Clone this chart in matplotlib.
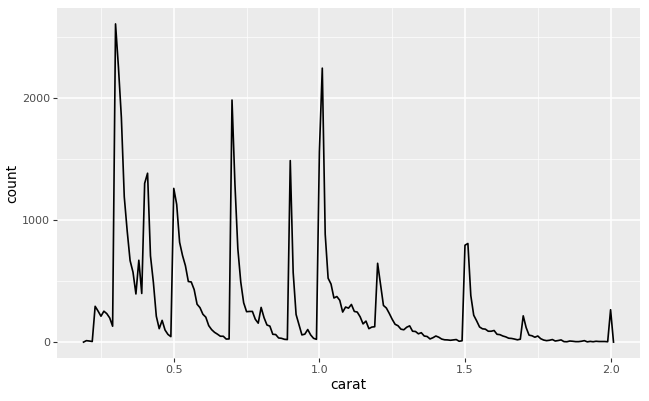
import matplotlib
matplotlib.use("Agg")
import matplotlib.pyplot as plt
import numpy as np

counts = [12, 9, 5, 293, 254, 212, 253, 233, 198, 130,
          2604, 2249, 1840, 1189, 910, 667, 572, 394, 670, 398,
          1299, 1382, 706, 488, 212, 110, 178, 99, 63, 45,
          1258, 1127, 817, 709, 625, 496, 492, 430, 310, 282,
          228, 204, 135, 102, 80, 65, 48, 48, 25, 26,
          1981, 1294, 764, 492, 322, 249, 251, 251, 187, 155,
          284, 200, 140, 131, 64, 62, 34, 31, 23, 21,
          1485, 570, 226, 142, 59, 65, 103, 59, 31, 23,
          1558, 2242, 883, 523, 475, 361, 373, 342, 246, 287,
          278, 308, 251, 246, 207, 149, 172, 110, 123, 126,
          645, 473, 300, 279, 235, 187, 146, 134, 106, 101,
          122, 133, 89, 87, 68, 77, 50, 46, 26, 36,
          50, 40, 25, 19, 18, 15, 18, 21, 7, 11,
          793, 807, 381, 220, 174, 124, 109, 106, 89, 89,
          95, 64, 61, 50, 43, 32, 30, 25, 19, 24,
          215, 119, 57, 52, 40, 50, 28, 17, 12, 15,
          21, 9, 13, 18, 4, 3, 9, 7, 4, 4,
          7, 12, 2, 6, 3, 7, 5, 5, 5, 3,
          265]
carat = np.round(0.20 + 0.01 * np.arange(len(counts)), 2)
x = np.concatenate([[0.19], carat, [carat[-1] + 0.01]])
y = np.concatenate([[0], counts, [0]])

fig = plt.figure(figsize=(6.49, 4.01), dpi=100)
ax = fig.add_axes([57/649, 43/401, 583/649, 350/401])
ax.set_facecolor("#EBEBEB")
for s in ax.spines.values():
    s.set_visible(False)
ax.plot(x, y, color="black", lw=1.2)
ax.set_xlim(0.099, 2.101)
ax.set_ylim(-130, 2734)
ax.set_xticks([0.5, 1.0, 1.5, 2.0])
ax.set_xticklabels(["0.5", "1.0", "1.5", "2.0"])
ax.set_yticks([0, 1000, 2000])
ax.set_xticks([0.25, 0.75, 1.25, 1.75], minor=True)
ax.set_yticks([500, 1500, 2500], minor=True)
ax.grid(which="major", color="white", lw=1.1)
ax.grid(which="minor", color="white", lw=0.5)
ax.set_axisbelow(True)
ax.tick_params(which="major", colors="#4D4D4D", labelsize=8, length=3, pad=2, color="#333333")
ax.tick_params(which="minor", length=0)
ax.set_xlabel("carat", fontsize=10, labelpad=2)
ax.set_ylabel("count", fontsize=10, labelpad=2)
fig.savefig("out.png", dpi=100)
